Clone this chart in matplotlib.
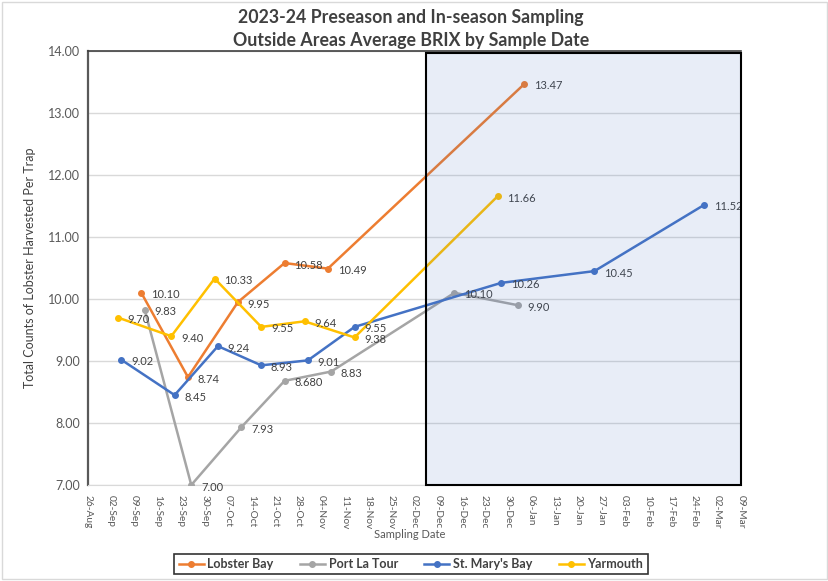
import matplotlib
matplotlib.use('Agg')
import matplotlib.pyplot as plt
import matplotlib.dates as mdates
from matplotlib.patches import Rectangle
from datetime import datetime, timedelta

plt.rcParams['font.family'] = ['Lato', 'DejaVu Sans']

# sample dates and average BRIX per area
lobsterDates = ['2023-09-11', '2023-09-25', '2023-10-10', '2023-10-24', '2023-11-06', '2024-01-04']
lobsterVals = [10.10, 8.74, 9.95, 10.58, 10.49, 13.47]
lobsterLabels = ['10.10', '8.74', '9.95', '10.58', '10.49', '13.47']

portDates = ['2023-09-12', '2023-09-26', '2023-10-11', '2023-10-24', '2023-11-07', '2023-12-14', '2024-01-02']
portVals = [9.83, 7.00, 7.93, 8.68, 8.83, 10.10, 9.90]
portLabels = ['9.83', '7.00', '7.93', '8.680', '8.83', '10.10', '9.90']

stmaryDates = ['2023-09-05', '2023-09-21', '2023-10-04', '2023-10-17', '2023-10-31', '2023-11-14', '2023-12-28', '2024-01-25', '2024-02-27']
stmaryVals = [9.02, 8.45, 9.24, 8.93, 9.01, 9.55, 10.26, 10.45, 11.52]
stmaryLabels = ['9.02', '8.45', '9.24', '8.93', '9.01', '9.55', '10.26', '10.45', '11.52']

yarDates = ['2023-09-04', '2023-09-20', '2023-10-03', '2023-10-17', '2023-10-30', '2023-11-14', '2023-12-27']
yarVals = [9.70, 9.40, 10.33, 9.55, 9.64, 9.38, 11.66]
yarLabels = ['9.70', '9.40', '10.33', '9.55', '9.64', '9.38', '11.66']

series = [
    ('Lobster Bay', lobsterDates, lobsterVals, lobsterLabels, '#ED7D31'),
    ('Port La Tour', portDates, portVals, portLabels, '#A5A5A5'),
    ("St. Mary's Bay", stmaryDates, stmaryVals, stmaryLabels, '#4472C4'),
    ('Yarmouth', yarDates, yarVals, yarLabels, '#FFC000'),
]

fig = plt.figure(figsize=(8.29, 5.81), dpi=100)
ax = fig.add_axes([88/829, 1-485/581, (741-88)/829, (485-51)/581])

for name, d, v, lab, c in series:
    xs = [datetime.strptime(q, '%Y-%m-%d') for q in d]
    ax.plot(xs, v, color=c, lw=1.8, marker='o', ms=4, label=name, zorder=3)
    for xp, yp, t in zip(xs, v, lab):
        ax.annotate(t, (xp, yp), xytext=(7, -1.5), textcoords='offset points',
                    ha='left', va='center', fontsize=8, color='#404040', zorder=4)

start = datetime(2023, 8, 26)
end = datetime(2024, 3, 9)
ax.set_xlim(start, end)
ax.set_ylim(7, 14)

ticks = [start + timedelta(days=7*i) for i in range(29)]
ax.set_xticks(ticks)
ax.xaxis.set_major_formatter(mdates.DateFormatter('%d-%b'))
ax.tick_params(axis='x', labelrotation=-90, labelsize=7.3, colors='#595959', length=0, pad=7)
ax.set_yticks(range(7, 15))
ax.set_yticklabels(['%.2f' % q for q in range(7, 15)])
ax.tick_params(axis='y', labelsize=9, colors='#595959', length=0, pad=6)

ax.grid(axis='y', color='#D9D9D9', lw=1)
ax.set_axisbelow(True)
ax.spines['right'].set_visible(False)
ax.spines['left'].set_color('#595959')
ax.spines['left'].set_linewidth(1.6)
ax.spines['top'].set_color('#404040')
ax.spines['top'].set_linewidth(1.2)
ax.spines['bottom'].set_color('#D9D9D9')

# in-season shaded box
boxStart = mdates.date2num(datetime(2023, 12, 5, 12))
boxEnd = mdates.date2num(end)
ax.add_patch(Rectangle((boxStart, 7.0), boxEnd - boxStart, 6.97, facecolor='#4472C4',
                       alpha=0.12, edgecolor='none', zorder=5, clip_on=False))
ax.add_patch(Rectangle((boxStart, 7.0), boxEnd - boxStart, 6.97, facecolor='none',
                       edgecolor='black', lw=1.5, zorder=6, clip_on=False))

ax.set_ylabel('Total Counts of Lobster Harvested Per Trap', fontsize=9, color='#404040', labelpad=8)
ax.set_xlabel('Sampling Date', fontsize=8, color='#595959')
ax.xaxis.set_label_coords((410-88)/(741-88), (485-535)/434)
ax.xaxis.label.set_va('center')

fig.text(411/829, 1-29/581, '2023-24 Preseason and In-season Sampling\nOutside Areas Average BRIX by Sample Date',
         ha='center', va='center', fontsize=12.8, fontweight='bold', color='#404040', linespacing=1.45)

leg = fig.legend(loc='center', bbox_to_anchor=(411/829, 1-564/581), ncol=4, fontsize=9,
                 frameon=True, fancybox=False, edgecolor='black', handlelength=2.0,
                 columnspacing=2.1, handletextpad=0.3, borderpad=0.35)
leg.get_frame().set_linewidth(1.2)
for t in leg.get_texts():
    t.set_fontweight('bold')
    t.set_color('#404040')

fig.patches.append(Rectangle((0.003, 0.003), 0.994, 0.994, transform=fig.transFigure,
                             facecolor='none', edgecolor='#D9D9D9', lw=1))

fig.savefig('out.png', dpi=100)
